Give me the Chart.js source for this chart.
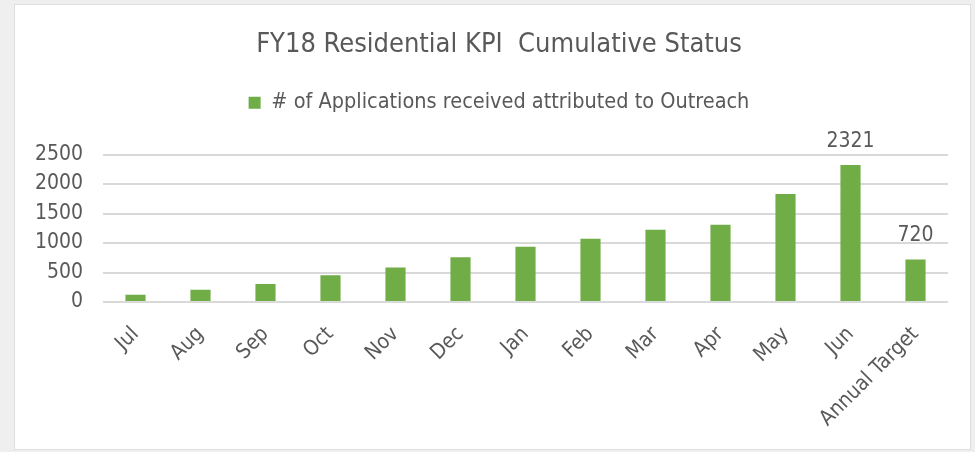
<!DOCTYPE html>
<html>
<head>
<meta charset="utf-8">
<script src="https://cdn.jsdelivr.net/npm/chart.js@4"></script>
<style>
  html,body{margin:0;padding:0;background:#efefef;width:975px;height:452px;overflow:hidden}
  .card{position:absolute;left:14px;top:4px;width:955px;height:444px;background:#fff;border:1px solid #dedede}
  #kpiChart{position:absolute;left:0;top:0}
</style>
</head>
<body>
<div class="card"></div>
<canvas id="kpiChart" width="975" height="452"></canvas>
<script>
const months = ['Jul','Aug','Sep','Oct','Nov','Dec','Jan','Feb','Mar','Apr','May','Jun','Annual Target'];
const applications = [124, 209, 306, 452, 583, 759, 935, 1071, 1224, 1310, 1832, 2321, 720];
const yTicks = [0, 500, 1000, 1500, 2000, 2500];
// only these bars get a value printed above them
const valueLabelled = ['Jun', 'Annual Target'];

const FONT = "'Liberation Sans Narrow', 'DejaVu Sans Condensed', sans-serif";
const TEXT = '#595959';

const barValues = {
  id: 'barValues',
  afterDatasetsDraw(chart){
    const {ctx} = chart;
    const meta = chart.getDatasetMeta(0);
    ctx.save();
    ctx.font = '21px ' + FONT;
    ctx.fillStyle = TEXT;
    ctx.textAlign = 'center';
    ctx.textBaseline = 'middle';
    meta.data.forEach((bar, i) => {
      if(!valueLabelled.includes(months[i])) return;
      ctx.fillText(String(applications[i]), bar.x, bar.y - 24);
    });
    ctx.restore();
  }
};

new Chart(document.getElementById('kpiChart'), {
  type: 'bar',
  data: {
    labels: months,
    datasets: [{
      label: '# of Applications received attributed to Outreach',
      data: applications,
      backgroundColor: '#70ad47',
      barPercentage: 0.31,
      categoryPercentage: 1
    }]
  },
  options: {
    responsive: false,
    animation: false,
    layout: {padding: {left: 30, right: 7, top: 0, bottom: 0}},
    plugins: {
      title: {
        display: true,
        weight: 3000,
        text: 'FY18 Residential KPI  Cumulative Status',
        color: TEXT,
        font: {family: FONT, size: 27, weight: 'normal', lineHeight: 0.4},
        padding: {top: 39.6, bottom: 0.6}
      },
      legend: {
        weight: 2000,
        labels: {
          color: TEXT,
          font: {family: FONT, size: 21.5},
          boxWidth: 12,
          boxHeight: 12,
          padding: 41
        }
      },
      // empty subtitle used as a gap between the legend and the plot
      subtitle: {
        display: true,
        weight: 1000,
        text: '',
        font: {size: 1, lineHeight: 1},
        padding: {top: 0, bottom: 30}
      },
      tooltip: {enabled: false}
    },
    scales: {
      x: {
        grid: {display: false},
        border: {display: false},
        ticks: {color: TEXT, font: {family: FONT, size: 21}, minRotation: 45, maxRotation: 45, padding: 12},
        afterFit(s){ s.height = 150; }
      },
      y: {
        min: 0,
        max: 2500,
        afterBuildTicks(s){ s.ticks = yTicks.map(v => ({value: v})); },
        grid: {color: '#d9d9d9', lineWidth: 2, drawTicks: false},
        border: {display: false},
        ticks: {color: TEXT, font: {family: FONT, size: 21}, padding: 20, callback: v => String(v)},
        afterFit(s){ s.width = 73; }
      },
      // blank right-hand strip so the plot ends short of the title's span
      yRight: {
        position: 'right',
        grid: {display: false},
        border: {display: false},
        ticks: {display: false},
        afterFit(s){ s.width = 20; }
      }
    }
  },
  plugins: [barValues]
});
</script>
</body>
</html>
